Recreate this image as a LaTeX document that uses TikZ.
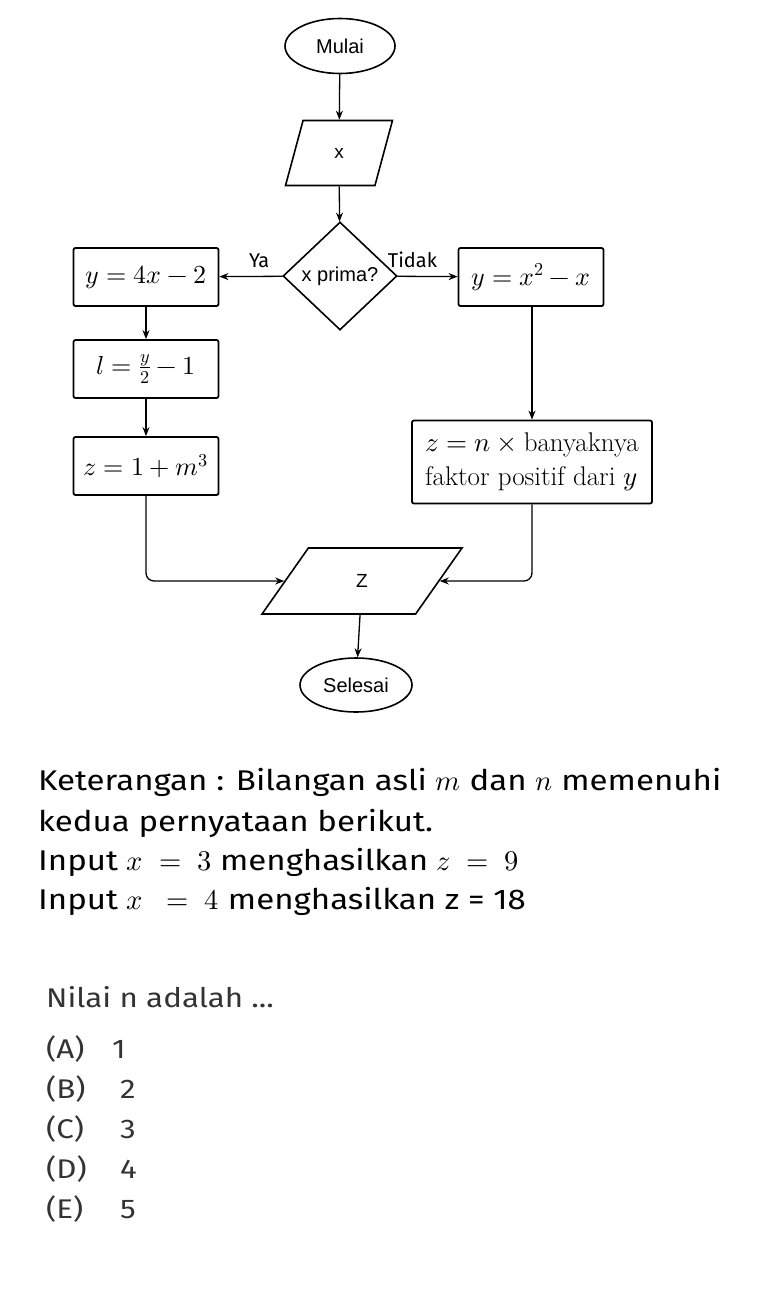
\documentclass[tikz,border=0pt]{standalone}
\usepackage{fontspec}
\usepackage{unicode-math}
\usetikzlibrary{shapes.geometric,arrows.meta}
\setmainfont{Latin Modern Roman}
\setmathfont{Latin Modern Math}
\newfontfamily\arialf{Liberation Sans}
\newfontfamily\ubf[FakeStretch=1.16]{Fira Sans}
\newfontfamily\labf{Fira Sans}
\begin{document}
\begin{tikzpicture}[x=1pt,y=-1pt,
  every node/.style={inner sep=0pt},
  term/.style={ellipse,draw,line width=1.6pt,minimum width=110pt,minimum height=55pt,font=\arialf\fontsize{20}{22}\selectfont},
  iobox/.style={trapezium,draw,line width=1.6pt,trapezium stretches=true,font=\arialf\fontsize{19}{20}\selectfont},
  proc/.style={rectangle,draw,line width=1.8pt,rounded corners=2pt,minimum width=145pt,minimum height=58pt,font=\fontsize{26}{30}\selectfont},
  dec/.style={diamond,draw,line width=1.6pt,minimum width=114pt,minimum height=108pt,font=\arialf\fontsize{20}{22}\selectfont},
  conn/.style={line width=1.3pt,-{Stealth[length=9pt,width=7pt]}},
  lab/.style={font=\labf\fontsize{20}{22}\selectfont},
  txt/.style={anchor=base west,font=\ubf\fontsize{28.5}{34}\selectfont},
  opt/.style={anchor=base west,font=\ubf\fontsize{27}{32}\selectfont,text=black!80}
]
\useasboundingbox (0,0) rectangle (769,1301);
\node[term] (start) at (340,46) {Mulai};
\node[iobox,trapezium left angle=77,trapezium right angle=103,minimum width=107pt,minimum height=65pt] (inx) at (339,153) {x};
\node[dec] (prime) at (340,276) {x prima?};
\node[proc] (ya) at (146,277) {$y=4x-2$};
\node[proc] (tidak) at (531,277) {$y=x^2-x$};
\node[proc] (l) at (146,369) {$l=\frac{y}{2}-1$};
\node[proc] (zm) at (146,466) {$z=1+m^3$};
\node[proc,minimum width=240pt,minimum height=83pt,align=left,font=\fontsize{27}{34}\selectfont] (zn) at (532,462) {$z=n\times{}$banyaknya\\faktor positif dari $y$};
\node[iobox,trapezium left angle=69,trapezium right angle=111,minimum width=200pt,minimum height=66pt] (outz) at (362,581) {Z};
\node[term,minimum width=112pt,minimum height=54pt] (stop) at (356,685) {Selesai};

\draw[conn] (start) -- (inx);
\draw[conn] (inx) -- (prime);
\draw[conn] (prime) -- node[lab,pos=0.37,above=8pt]{Ya} (ya);
\draw[conn] (prime) -- node[lab,pos=0.25,above=8pt]{Tidak} (tidak);
\draw[conn] (ya) -- (l);
\draw[conn] (l) -- (zm);
\draw[conn] (tidak.south -| zn.north) -- (zn.north);
\draw[conn,rounded corners=8pt] (zm.south) |- (outz);
\draw[conn,rounded corners=8pt] (zn.south) |- (outz);
\draw[conn] (outz) -- (stop);

\node[txt] (k1) at (38,790) {Keterangan : Bilangan asli $m$ dan $n$ memenuhi};
\node[txt] (k2) at (38,831) {kedua pernyataan berikut.};
\node[txt] (k3) at (38,870) {Input $x\;=\;3$ menghasilkan $z\;=\;9$};
\node[txt] (k4) at (38,909) {Input $x\;\;=\;4$ menghasilkan z = 18};
\node[opt] (q) at (46,1007) {Nilai n adalah ...};
\node[opt] (a) at (46,1058) {\makebox[66pt][l]{(A)}1};
\node[opt] (b) at (46,1098) {\makebox[74pt][l]{(B)}2};
\node[opt] (c) at (46,1138) {\makebox[74pt][l]{(C)}3};
\node[opt] (d) at (46,1178) {\makebox[74pt][l]{(D)}4};
\node[opt] (e) at (46,1218) {\makebox[74pt][l]{(E)}5};
\end{tikzpicture}
\end{document}
